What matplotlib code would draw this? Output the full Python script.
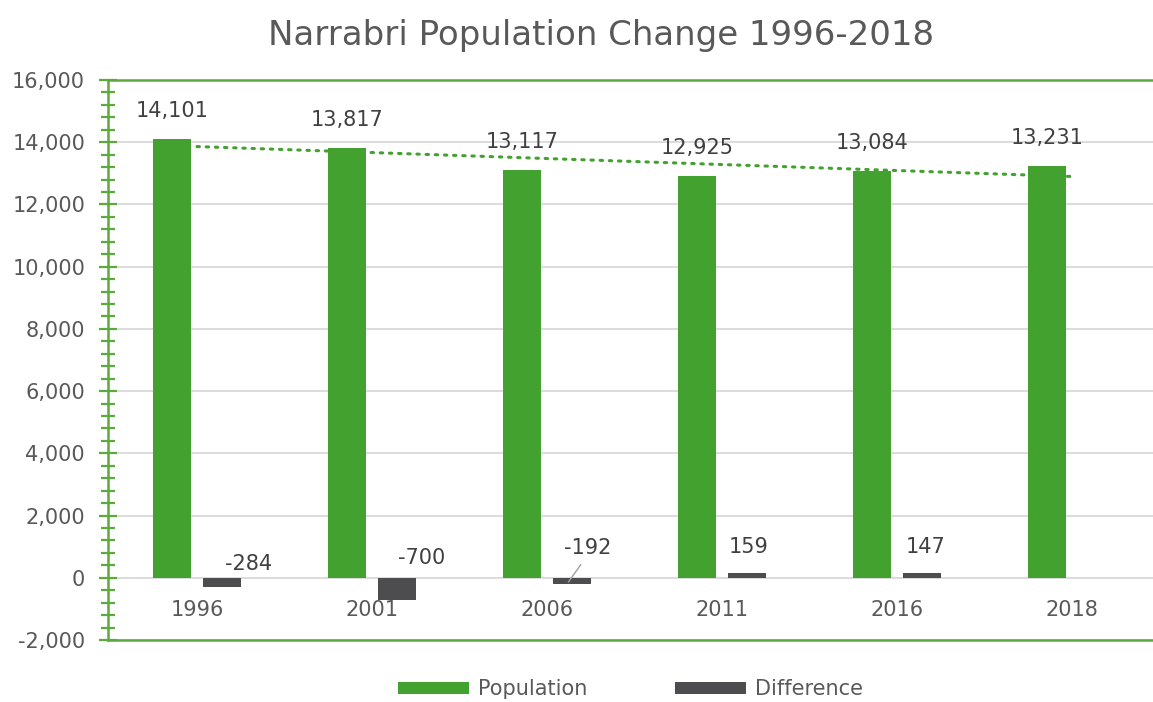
import numpy as np
import matplotlib.pyplot as plt
from matplotlib.ticker import MultipleLocator, FuncFormatter

# Narrabri census counts and change between censuses
years = ["1996", "2001", "2006", "2011", "2016", "2018"]
population = [14101, 13817, 13117, 12925, 13084, 13231]
difference = [-284, -700, -192, 159, 147]

green = "#43a12f"
dark = "#4d4d4f"
axis_green = "#5caa3e"
text_grey = "#595959"
label_grey = "#404040"

plt.rcParams['font.family'] = ['DejaVu Sans']

fig = plt.figure(figsize=(11.53, 7.02), dpi=100)
ax = fig.add_axes([108 / 1153, 62 / 702, 1 - 108 / 1153, 560 / 702])

x = np.arange(len(years))
w = 0.222
off = 0.143

ax.bar(x - off, population, width=w, color=green, label="Population", zorder=3)
ax.bar(x[:len(difference)] + off, difference, width=w, color=dark, label="Difference", zorder=3)

# linear trend through the population series
coef = np.polyfit(x, population, 1)
ax.plot(x, np.polyval(coef, x), linestyle=(0, (0.8, 2.2)), color=green, lw=2.2,
        dash_capstyle="round", zorder=4)

# population value labels
for xi, v in zip(x, population):
    ax.text(xi - off, v + 900, f"{v:,}", ha="center", va="center",
            fontsize=15, color=label_grey, zorder=5)

# difference labels, nudged off the bars
diff_dx = [0.15, 0.14, 0.09, 0.01, 0.02]
diff_y = [440, 650, 950, 1000, 1000]
for xi, v, dx, dy in zip(x, difference, diff_dx, diff_y):
    ax.text(xi + off + dx, dy, f"{v:,}", ha="center", va="center",
            fontsize=15, color=label_grey, zorder=5)
# leader line for the small 2006 label
ax.plot([2 + off - 0.02, 2 + off + 0.05], [-130, 420], color="#a0a0a0", lw=1, zorder=5)

# category labels sit just under the zero line
for xi, yr in zip(x, years):
    ax.text(xi, -1030, yr, ha="center", va="center", fontsize=15, color=text_grey)

ax.set_xlim(-(197 - 108) / 175, (1153 - 197) / 175)
ax.set_ylim(-2000, 16000)
ax.set_xticks([])
ax.yaxis.set_major_locator(MultipleLocator(2000))
ax.yaxis.set_minor_locator(MultipleLocator(400))
ax.yaxis.set_major_formatter(FuncFormatter(lambda v, p: f"{int(v):,}"))
ax.tick_params(axis="y", which="major", direction="inout", length=13, width=1.6,
               color=axis_green, labelsize=15, labelcolor=text_grey, pad=10)
ax.tick_params(axis="y", which="minor", direction="inout", length=10, width=1.6,
               color=axis_green)
ax.grid(axis="y", which="major", color="#d9d9d9", lw=1.3, zorder=0)

for side in ["left", "top", "bottom"]:
    ax.spines[side].set_color(axis_green)
    ax.spines[side].set_linewidth(1.8)
ax.spines["right"].set_visible(False)

fig.text(601 / 1153, 1 - 35 / 702, "Narrabri Population Change 1996-2018",
         ha="center", va="center", fontsize=24.5, color=text_grey)

leg = ax.legend(loc="center", bbox_to_anchor=(0.5, -0.0875), ncol=2, frameon=False,
                fontsize=15, handlelength=3.4, handleheight=0.5, handletextpad=0.45,
                columnspacing=4.2, labelcolor=text_grey)

fig.savefig("out.png", dpi=100, facecolor="white")
